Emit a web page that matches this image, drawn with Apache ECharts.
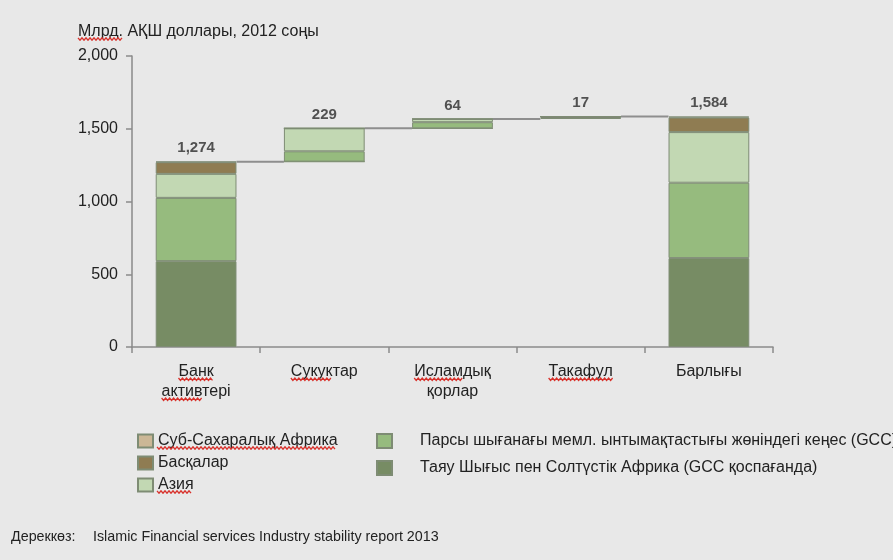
<!DOCTYPE html>
<html>
<head>
<meta charset="utf-8">
<script src="https://cdn.jsdelivr.net/npm/echarts@6/dist/echarts.min.js"></script>
<style>
  html, body { margin: 0; padding: 0; background: #e8e8e8; }
  #chart { width: 893px; height: 560px; }
</style>
</head>
<body>
<div id="chart"></div>
<script>
// Categories on the x axis
const categories = ['Банк\nактивтері', 'Сукуктар', 'Исламдық\nқорлар', 'Такафул', 'Барлығы'];

// Regional breakdown of each bar, bln USD (end of 2012)
const mena   = [590,   0,  0,  7, 611];   // Таяу Шығыс пен Солтүстік Африка (GCC қоспағанда)
const gcc    = [435,  71, 42, 10, 518];   // Парсы шығанағы ... кеңес (GCC)
const asia   = [165, 158, 22,  0, 348];   // Азия
const others = [ 80,   0,  0,  0, 100];   // Басқалар
const ssa    = [  4,   0,  0,  0,   7];   // Суб-Сахаралық Африка

// Y axis ticks
const yTicks = [0, 500, 1000, 1500, 2000];

const seriesNames = {
  ssa: 'Суб-Сахаралық Африка',
  others: 'Басқалар',
  asia: 'Азия',
  gcc: 'Парсы шығанағы мемл. ынтымақтастығы жөніндегі кеңес (GCC)',
  mena: 'Таяу Шығыс пен Солтүстік Африка (GCC қоспағанда)'
};

const colors = {
  mena: '#778c64',
  gcc: '#96bb7e',
  asia: '#c2d8b3',
  others: '#8f7c52',
  ssa: '#cbb796'
};

const FONT = 'Arial, "Liberation Sans", sans-serif';
const FS = 16;

// Height of each bar and the invisible base it floats on (waterfall)
const barSum = categories.map((_, i) => mena[i] + gcc[i] + asia[i] + others[i] + ssa[i]);
const base = [];
let running = 0;
categories.forEach((_, i) => {
  if (i === 0 || i === categories.length - 1) { base.push(0); }
  else { base.push(running); }
  running = (i === 0) ? barSum[0] : running + barSum[i];
});
const tops = barSum.map((v, i) => base[i] + v);

// Connector lines between consecutive bars at the running level
const connectors = [];
for (let i = 0; i < categories.length - 1; i++) {
  connectors.push([i, tops[i]]);
}

const fmt = v => String(v).replace(/\B(?=(\d{3})+(?!\d))/g, ',');

const BAR_RATIO = 0.63;
const segStyle = c => ({ color: c, borderColor: '#7e8c74', borderWidth: 1 });

function segment(key, data) {
  return {
    name: seriesNames[key],
    type: 'bar',
    stack: 'w',
    barWidth: (BAR_RATIO * 100) + '%',
    itemStyle: segStyle(colors[key]),
    data: data
  };
}

const GRID = { left: 132, right: 120, top: 56, bottom: 213 };
const X_LABEL_MARGIN = 15, X_LINE_H = 20;
const TITLE_LEFT = 78, TITLE_TOP = 24;
const LEG1 = { left: 137, top: 433, gap: 6 }, LEG2 = { left: 376, top: 433, gap: 11 };

const chart = echarts.init(document.getElementById('chart'), null, { renderer: 'canvas' });

chart.setOption({
  animation: false,
  backgroundColor: '#e8e8e8',
  textStyle: { fontFamily: FONT },
  grid: Object.assign({ containLabel: false }, GRID),
  title: {
    text: 'Млрд. АҚШ доллары, 2012 соңы',
    left: TITLE_LEFT, top: TITLE_TOP, padding: 0,
    textStyle: { fontFamily: FONT, fontSize: FS, fontWeight: 'normal', color: '#222' }
  },
  legend: [
    {
      data: [seriesNames.ssa, seriesNames.others, seriesNames.asia],
      orient: 'vertical', left: LEG1.left, top: LEG1.top, padding: 0,
      icon: 'rect', itemWidth: 15, itemHeight: 13, itemGap: LEG1.gap,
      textStyle: { fontFamily: FONT, fontSize: FS, color: '#222' },
      selectedMode: false
    },
    {
      data: [seriesNames.gcc, seriesNames.mena],
      orient: 'vertical', left: LEG2.left, top: LEG2.top, padding: 0,
      icon: 'rect', itemWidth: 15, itemHeight: 14, itemGap: LEG2.gap,
      textStyle: { fontFamily: FONT, fontSize: FS, color: '#222', padding: [0, 0, 0, 23] },
      selectedMode: false
    }
  ],
  xAxis: {
    type: 'category',
    data: categories,
    axisLine: { lineStyle: { color: '#8a8a8a', width: 1.5 } },
    axisTick: { show: true, length: 6, lineStyle: { color: '#8a8a8a', width: 1.5 } },
    axisLabel: { fontFamily: FONT, fontSize: FS, color: '#222', margin: X_LABEL_MARGIN, lineHeight: X_LINE_H }
  },
  yAxis: {
    type: 'value',
    min: yTicks[0], max: yTicks[yTicks.length - 1], interval: 500,
    axisLine: { show: true, lineStyle: { color: '#8a8a8a', width: 1.5 } },
    axisTick: { show: true, length: 6, lineStyle: { color: '#8a8a8a', width: 1.5 } },
    splitLine: { show: false },
    axisLabel: { fontFamily: FONT, fontSize: FS, color: '#222', margin: 14, formatter: v => fmt(v) }
  },
  series: [
    {
      name: 'base', type: 'bar', stack: 'w', silent: true,
      barWidth: (BAR_RATIO * 100) + '%',
      itemStyle: { color: 'transparent', borderWidth: 0 },
      data: base
    },
    segment('mena', mena),
    segment('gcc', gcc),
    segment('asia', asia),
    segment('others', others),
    segment('ssa', ssa),
    {
      name: 'connectors', type: 'custom', silent: true, z: 1,
      data: connectors,
      encode: { x: 0, y: 1 },
      renderItem: (params, api) => {
        const i = api.value(0), lvl = api.value(1);
        const p1 = api.coord([i, lvl]);
        const p2 = api.coord([i + 1, lvl]);
        const half = api.size([1, 0])[0] * BAR_RATIO / 2;
        return {
          type: 'line',
          shape: { x1: p1[0] + half, y1: p1[1], x2: p2[0] - half, y2: p2[1] },
          style: { stroke: '#8e8e8e', lineWidth: 2 }
        };
      }
    },
    {
      name: 'values', type: 'scatter', silent: true,
      symbolSize: 0,
      data: tops,
      label: {
        show: true, position: 'top', distance: 6,
        fontFamily: FONT, fontSize: 15, fontWeight: 'bold', color: '#2a2a2a',
        formatter: p => fmt(barSum[p.dataIndex])
      }
    }
  ]
});

// ---- Red spell-check squiggles under some words, plus the source line ----
const measureCtx = document.createElement('canvas').getContext('2d');
function textWidth(str, size) {
  measureCtx.font = size + 'px ' + FONT;
  return measureCtx.measureText(str).width;
}
function squiggle(x1, x2, y) {
  const pts = [];
  let up = true;
  for (let x = x1; x <= x2; x += 2) {
    pts.push([x, up ? y - 1.2 : y + 1.2]);
    up = !up;
  }
  return {
    type: 'polyline', silent: true, z: 100,
    shape: { points: pts },
    style: { stroke: '#d8322c', lineWidth: 1.3, fill: null }
  };
}

const graphics = [];

// title: "Млрд."
graphics.push(squiggle(TITLE_LEFT, TITLE_LEFT + textWidth('Млрд.', FS), TITLE_TOP + 15));

// axis labels: [category index, line number, part of the line that is underlined]
const axisY = chart.convertToPixel({ yAxisIndex: 0 }, 0);
const axisMarks = [[0, 0, 'Банк'], [0, 1, 'актив'], [1, 0, 'Сукук'], [2, 0, 'Ислам'], [3, 0, 'Такафул']];
axisMarks.forEach(([ci, line, part]) => {
  const cx = chart.convertToPixel({ xAxisIndex: 0 }, ci);
  const lineText = categories[ci].split('\n')[line];
  const x0 = cx - textWidth(lineText, FS) / 2;
  const y = axisY + X_LABEL_MARGIN + line * X_LINE_H + X_LINE_H / 2 + FS * 0.45;
  graphics.push(squiggle(x0, x0 + textWidth(part, FS), y));
});

// legend labels (left column rows are 16 + gap px apart)
const legTextX = LEG1.left + 15 + 5;
const legRow = 16 + LEG1.gap;
graphics.push(squiggle(legTextX, legTextX + textWidth(seriesNames.ssa, FS), LEG1.top + 15));
graphics.push(squiggle(legTextX, legTextX + textWidth(seriesNames.asia, FS), LEG1.top + 15 + 2 * legRow));

graphics.push({
  type: 'text', left: 11, top: 530,
  style: { text: 'Дереккөз:', font: '14.3px ' + FONT, fill: '#222' }
});
graphics.push({
  type: 'text', left: 93, top: 530,
  style: { text: 'Islamic Financial services Industry stability report 2013', font: '14.3px ' + FONT, fill: '#222' }
});

chart.setOption({ graphic: graphics });
</script>
</body>
</html>
